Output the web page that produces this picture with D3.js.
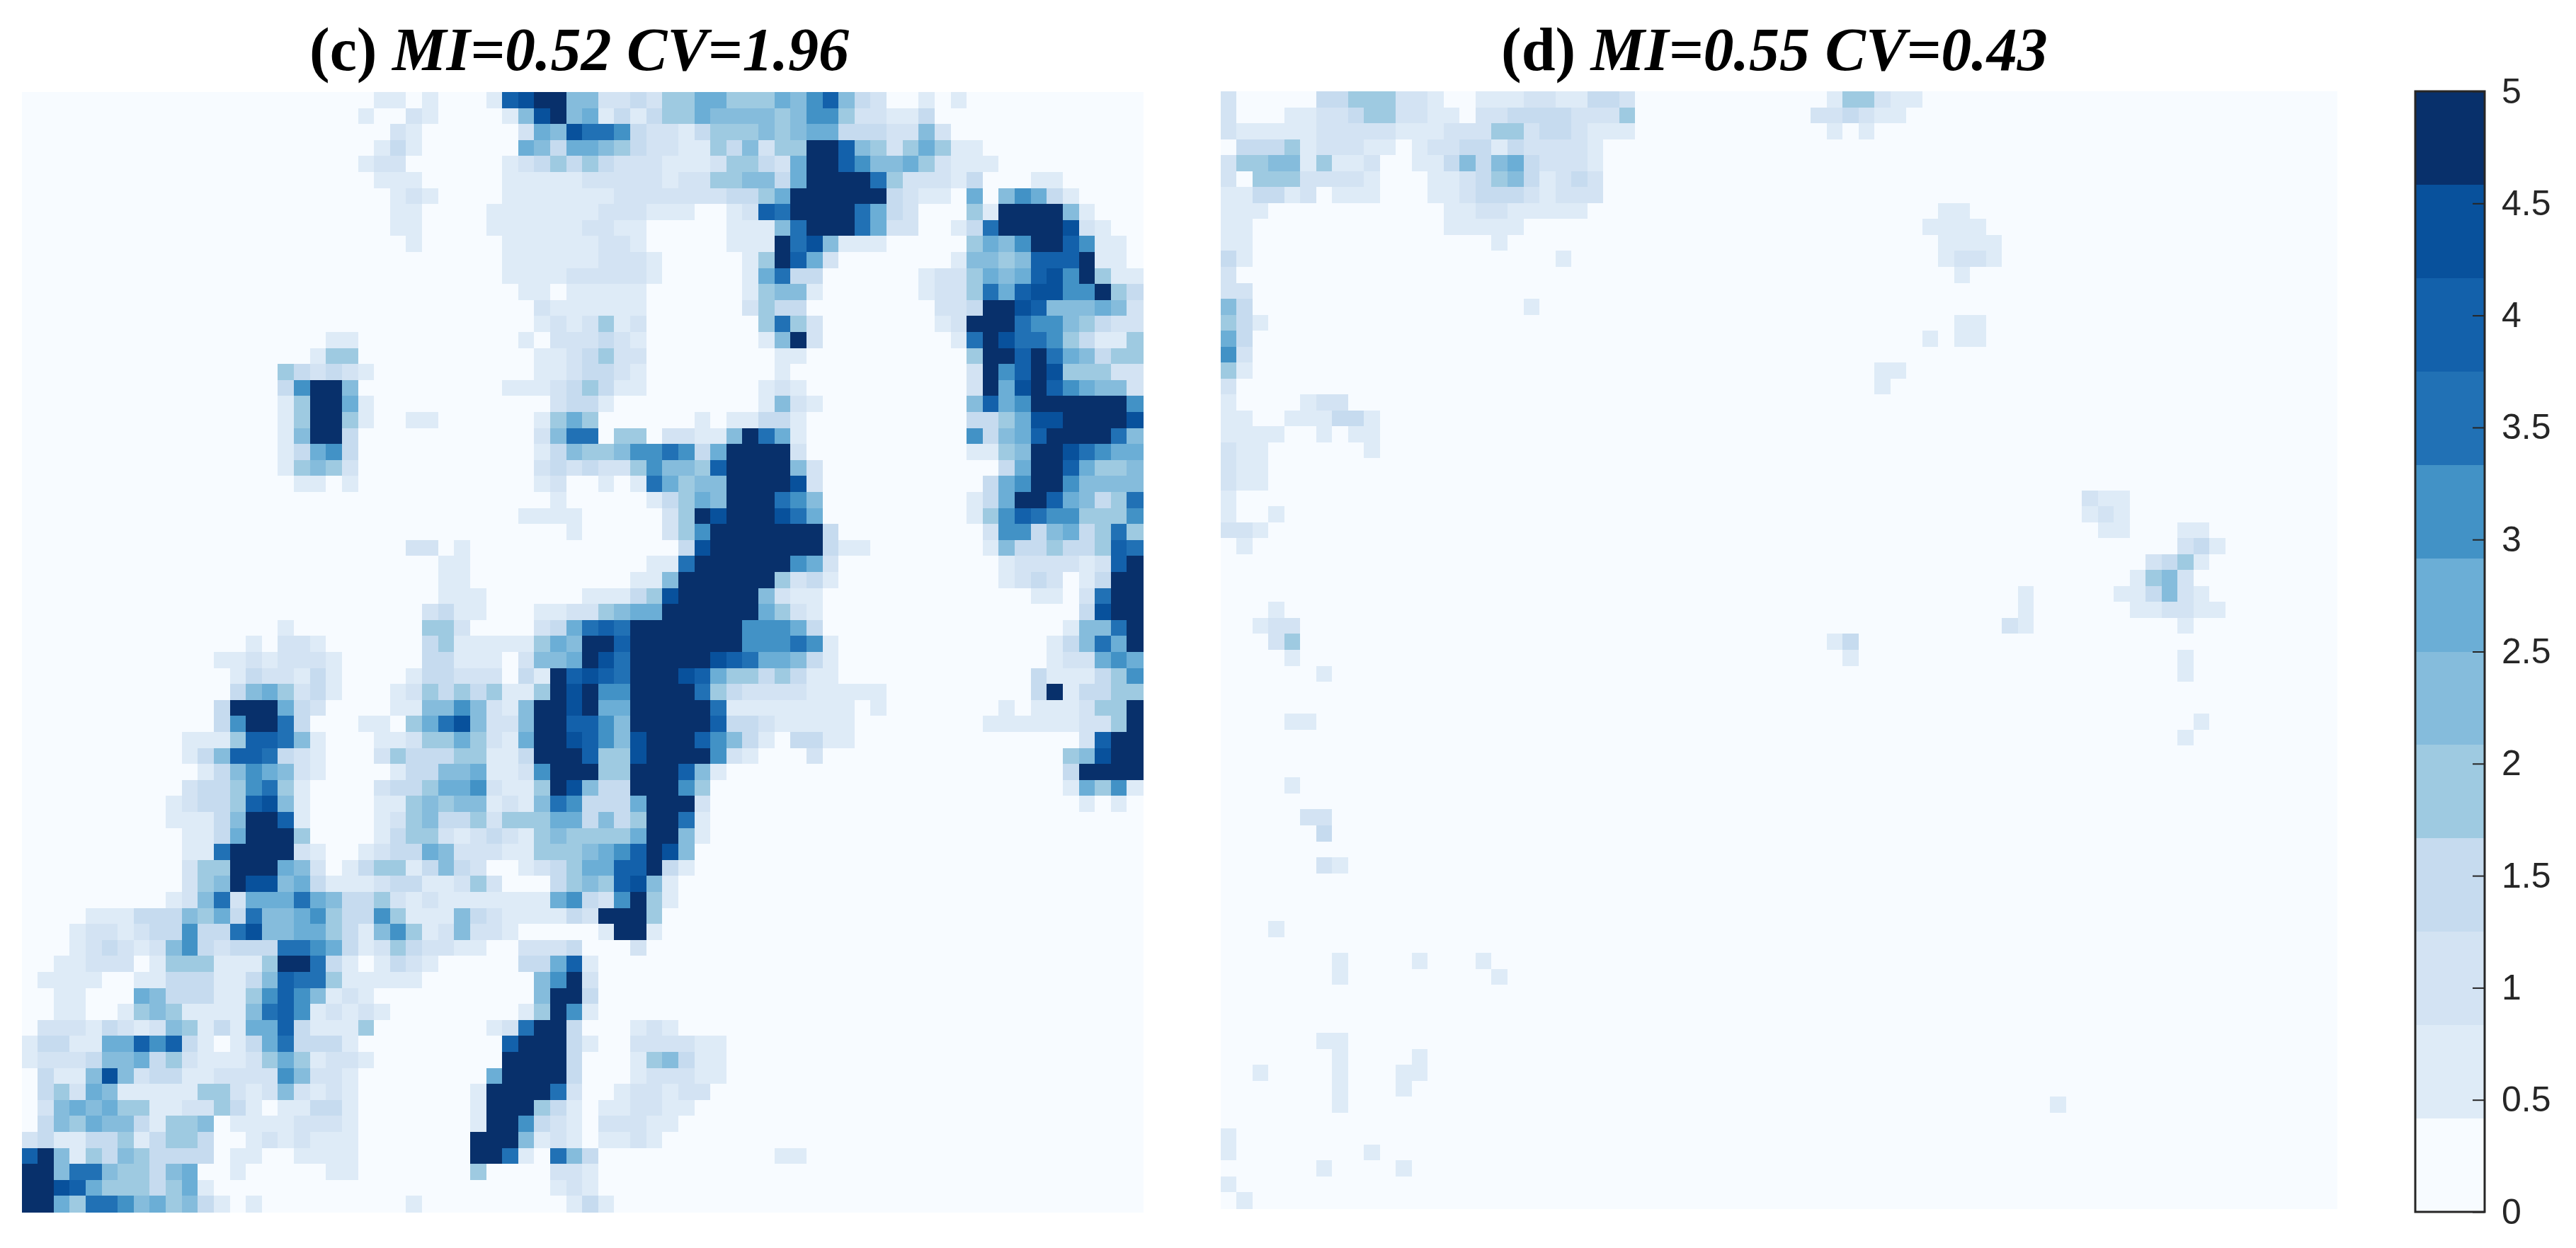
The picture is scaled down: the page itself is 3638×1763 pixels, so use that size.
<!DOCTYPE html>
<html>
<head>
<meta charset="utf-8">
<script src="https://d3js.org/d3.v7.min.js"></script>
<style>
body { margin: 0; background: #fff; }
svg { display: block; }
</style>
</head>
<body>
<div id="chart"></div>
<script>
// cell values are the colour level 0-b (hex), one per cell. (n) means n empty cells
var cLeft = [
"(22)11 0 1 (3) 1 9abb5","(21)1 00 21 (4) 1 5ab5","(23)21 (6) 2 65a","(22)131 (6) 6536","(21)122 (6) 12343",
"(22)111 (5) 11111","(23)121 (4) 11111","(23)11 (4) 111111","(23)11 (4) 111111","(24)1 (5) 11111",
"(30)11111","(30)11112","(31)1101","(32)211","(32)121",
"(19)11 (10) 1022","(18)1 44 (11) 112","(16)432321 (10) 112","(16)37bb5 (9) 11123","(16)14bb61 (11) 23",
"(16)14bb41 00 11 (6) 146","(16)15bb3 (11) 258","(16)13673 (11) 135","(16)14542 (11) 232","(17)11 0 1 (11) 120",
"(33)10","(31)1111","(34)1","(24)22 0 1 (7)","(26)11 (7)",
"(26)11 (7)","(26)111 (6)","(25)2311 (3) 112","(16)1 (8) 442 (4) 236","(14)1 0 221 (6) 34 11111 465",
"(12)11 2 1 222 1 (5) 33 111 0 2 556","(13)1322131 (4) 1 33 222 0 3 1 b9","(13)3564231 (3) 12 43434 11 4ba","(12)3bbb632 (4) 11 55752 15 bba","(12)37bb83 (3) 11 0 468a5 22 5 bb9",
"(10)111 499851 (3) 11 2 44 6 4 2 1 6 bba","(10)135 998 321 (3) 24 333 44 11 3 bbb","(11)13 5765 21 (4) 1 33 55 6 11 2 7bb","(10)2 33 4784 1 (4) 2 33 4 66 7 2 11 4ba","(9)12 33 49a5 1 (4) 11 45455 121 587",
"(9)11 1 3 5bb9 1 (4) 1245334244466","(10)11 3 6bbb 4 (4) 1344212321454","(10)11 8 bbbb 2 1 00 1 2 33 65 222 11 444","(10)2 44 bbb 65 2 0 1 3 44 13532 00 1234","(10)245baa563 111 2 33 11242 000 34",
"(9)1258 2 666 865 33 42121111111 67","0000 111 333 5463 855674 33 74 111 5 3 2 1111 3","000 1 22 1 2 33 7 33 8a 55 66 4 3 1 574 1 2 5 22 1 0000","000 1232125732 333 88 7631243 22 11 00 222 3","00 11 222 0 1 444 111 4 bb 8 3 1 0 1321 (5) 33 69",
"0 1111 00 11 333 11 359 88 4 1 1111 (7) 57b","00 11 000 65 333 11 47975121 (10) 5bb","00 11 00 1 454 1111 589712121 (8) 14b7","0 222 1321254131 66 93 111 4 (7) 128bb3","1 33 11 66 979 31 0 1368 333 1 (9) 9bbb3",
"1 222 3 55 6 3 4 2 111 2 4 6 4 1 22 1 (8) bbbb3","0 3 11 5a52 33 1 1 2 222 7 5 22 1 (8) 6 bbbb3","034265 111 11 44 21252121 (7) 1 bbbb 82","025656 44 11 22 4310 11 33 1 (7) 1 bbb 431","03546 55 31 44 5 0 1111 222 1 (7) 1 bb 7321",
"23 11 33 4 1 3 44 3 00 1212 111 (7) bbb 5121","9b514354 3333 0 11 00 1111 (7) bb 81085","bb588544356 00 1 (5) 11 (7) 4 0000 22","bba964443461 (21) 12","bb6488756453101 (9) 1 (9) 1"
];
var cRight = [
"522324466444657953200101 (11)","61313 44 6 5555 4 5 77 4 22 11 3 (13)","88 7 3 22 1 3 444 5 4 5 66 333 22 5 2 (12)","6 5 4 3 22 11 4 3 5 2 44 bb 9 5 4 2 4 6 4 11 (10)","4 3 222 111 2 44 3 2 6 bb 9 7 55 6 4 2 111 (9)",
"22222 1 22 44 55 3 6 bbbb 8 4 2 22 1 3 000 11 (5)","11 2222222 33 4 6 bbbbbb 3 2 11 0 6 0 5 7 6 3 1 (4)","1 222 111 00 1 2 9 8 bbbb 8 6 3 2 000 4 1 bbbb 5 1 (3)","2 2 11 (5) 111 5 8 bbb 8 6 22 00 1 3 8 bbbb a 2 1 (2)","1 22 1 (5) 111 b 8 a 5 111 (5) 4 6 5 7 bb 9 7 11 0",
"1 222 1 (5) 1 4 b 9 6 2 (7) 1 55 4 5 999 b 11 0","2222 1 (5) 1 6 8 33 (6) 1 22 4 6 5 6 9 a 7 b 4 1 1","1111 (6) 1 4 55 1 (6) 1 2 2 4 8 6 9 aa 77 b 4 3","1111 (6) 2 4 33 (8) 22 3 bb a 9 555 6 5 2","2 4 1 2 (7) 4 8 4 2 (7) 1 2 bbb 8 77 5 4 3 22",
"2 3 2 1 (7) 1 5 b 2 (8) 1 8 b a 88 7 4 3 11 4","3 4 22 (8) 11 (10) 4 bb 9 b 8 6 5 3 44","33 2 1 (8) 1 (11) 2 b 7 9 b a 444 22","4 3 11 (7) 1 2 1 (10) 2 b 6 a b 9 7 6 55 2","3 1 (9) 1 5 2 1 (9) 5 9 6 7 bbbbbb 7",
"4 (6) 1 0 11 33 1 (10) 33 4 6 aa bbbb a","8 0 44 0 22 11 5 b 8 6 1 (10) 7 3 5 6 9 bbbb 8 5","44 5 77 8 7 3 6 bbbb 2 (10) 11 4 5 bb a 8 7 66","3 22 4 7 55 4 9 bbbb 5 2 (11) 3 6 bb 9 6 4 4 5","0 1 0 1 8 6 4 55 bbbb a 2 (10) 3 6 7 bb 7 5555",
"0000 1 3 4 6 5 bbb 8 7 5 (9) 1 3 6 bb 9 6 5 3 4 8","(5) 2 4 b a bbb a 8 6 (9) 1 4 7 9 8 77 44 4 7","(5) 2 4 7 bbbbbbb 3 (9) 2 77 3 5 6 3 4 8 4","(6) 3 a bbbbbbb 3 11 (7) 1 5 33 4 33 4 9 8","0000 11 8 bbbbbb 7 6 2 (10) 1 2222 1 2 9 b",
"000 11 5 bbbbbb 4 2 3 1 (10) 1 2 3 2 0 1 3 bb","111 3 4 a bbbbb 5 2 11 (13) 11 0 2 8 bb","2 4 5 66 bbbbbb 6 4 2 1 (16) 3 a bb","8 9 8 bbbbbbb 777 6 3 (15) 1 55 8 b","bb 9 bbbbbbb 777 8 7 1 (13) 1 3 5 8 6 b",
"b a 8 bbbbb a 9 8 66 5 3 1 (13) 1 22 6 7 6","a 9 8 bbb a 9 6 44 3 4 3 1 1 (12) 3 111 3 4 7","b 77 bbbb 8 4 3 2222 11111 (9) 3 b 1 33 44","b 66 bbbbb 8 11111111 0 1 (7) 1 0 111 2 44 b","9 7 5 bbbbb 9 33 2 11111 (8) 111111 22 4 b",
"9 7 5 a bbb 9 7 5 3 1 0 33 11 (14) 2 9 bb","9 44 a bbbb 7 2 1 000 2 (15) 4 5 a bb","b 44 bbb 9 5 1 (21) 3 bbbb","5 33 bbb 7 4 (22) 1 6 4 7 1","3 33 6 bbb 2 (23) 1 0 1 0",
"3 5 3 4 bb 8 1 (27)","444 6 bb 5 1 (27)","5 6 7 9 b a 5 (28)","66 99 b 3 1 (28)","5 4 9 a 5 1 (29)",
"3 2 7 b 4 1 (29)","2 bbb 4 (30)","0 1 bb 1 (30)","000 2 (31)","1 (34)",
"2 (34)","3 (34)","1 (34)","000 121 (29)","1 00 2222 11 (26)",
"000 1 4 5 3 11 (26)","000 1 222 11 (26)","00 1 22 1 22 (27)","0 11 22 11 (28)","0 222 11 (29)",
"0 11 2 1 (30)","3 (11) 11 (21)","1 (34)","1 (34)","3 1 (33)"
];
var dRows = [
"2(5)33444221001112211332(12)144211","20001122344221102233332224(11)223211","21111122222111222442332111(12)101","033341222110122331322221","244551411200113535632221",
"204442222100011234531232","113312011100011233321222","111(11)112211111(22)11","11(12)11111(25)1111","11(15)1(27)1111",
"31(19)1(23)1221","2(45)1","22","53(17)1","431(43)11",
"63(42)1011","72","41(39)11","2(40)1","1(4)122",
"1100111331","1111001011","211(6)1","211","211",
"1(53)211","1001(50)121","221(52)11(3)11","01(58)231","(58)2341",
"(57)1452","(50)1(5)113521","0001(46)1(6)112211","00122(44)21(9)1","00024(33)13",
"00001(34)1(20)1","(6)1(53)1","","","000011(55)1",
"(60)1","","","00001","",
"(5)22","(6)3","","(6)21","",
"","","0001","","(7)1(4)1(3)1",
"(7)1(9)1","","","","(6)11",
"(7)1(4)1","001(4)1(3)11","(7)1(3)1","(7)1(44)1","",
"1","1(8)1","(6)1(4)1","1","01"
];
var blues = ["#f7fbff","#deebf7","#d3e3f3","#c6dbef","#9ecae1","#85bcdc","#6baed6","#4292c6","#2171b5","#1361ab","#08519c","#08306b"];
var colorTicks = [0,0.5,1,1.5,2,2.5,3,3.5,4,4.5,5];

var n = 70;

function decode(row){
  row = row.replace(/\s/g,"").replace(/\((\d+)\)/g, function(m,k){ return "0".repeat(+k); });
  return row.padEnd(n,"0").split("").map(function(ch){ return parseInt(ch,16); });
}

var cGrid = cLeft.map(function(r,i){ return decode(r + cRight[i]); });
var dGrid = dRows.map(decode);

var svg = d3.select("#chart").append("svg")
  .attr("width", 3638)
  .attr("height", 1763);

var color = d3.scaleQuantize().domain([0,12]).range(blues);

function drawPanel(grid, x0, x1, y0, y1){
  var x = d3.scaleBand().domain(d3.range(n)).range([x0,x1]);
  var y = d3.scaleBand().domain(d3.range(n)).range([y0,y1]);
  var rows = svg.append("g")
    .attr("shape-rendering", "crispEdges")
    .selectAll("g")
    .data(grid)
    .enter().append("g")
    .attr("transform", function(d,i){ return "translate(0," + y(i) + ")"; });
  rows.selectAll("rect")
    .data(function(d){ return d; })
    .enter().append("rect")
    .attr("x", function(d,i){ return x(i); })
    .attr("width", x.bandwidth() + 0.5)
    .attr("height", y.bandwidth() + 0.5)
    .attr("fill", function(d){ return color(d); });
}

drawPanel(cGrid, 30.5, 1614, 130, 1712);
drawPanel(dGrid, 1723.5, 3300.5, 129, 1707);

function title(x, label, rest){
  var t = svg.append("text")
    .attr("x", x)
    .attr("y", 99)
    .attr("font-family", "'Liberation Serif'")
    .attr("font-weight", "bold")
    .attr("font-size", 86)
    .attr("fill", "#000");
  t.append("tspan").text(label);
  t.append("tspan").attr("font-style", "italic").text(rest);
}
title(437, "(c) ", "MI=0.52 CV=1.96");
title(2120, "(d) ", "MI=0.55 CV=0.43");

// colorbar
var barY = d3.scaleLinear().domain([0,5]).range([1712,129]);
var barLeft = 3411, barRight = 3509;
svg.append("g").selectAll("rect")
  .data(blues)
  .enter().append("rect")
  .attr("shape-rendering", "crispEdges")
  .attr("x", barLeft)
  .attr("width", barRight - barLeft)
  .attr("y", function(d,i){ return barY((i+1)*5/12); })
  .attr("height", function(d,i){ return barY(i*5/12) - barY((i+1)*5/12); })
  .attr("fill", function(d){ return d; });

var axis = d3.axisRight(barY)
  .tickValues(colorTicks)
  .tickFormat(function(d){ return d; })
  .tickSize(-17)
  .tickPadding(24);
var axisG = svg.append("g")
  .attr("transform", "translate(" + barRight + ",0)")
  .call(axis);
axisG.select(".domain").remove();
axisG.selectAll("line").attr("stroke", "#262626").attr("stroke-width", 2);
axisG.selectAll("text")
  .attr("fill", "#262626")
  .attr("font-family", "'Liberation Sans'")
  .attr("font-size", 50);

svg.append("rect")
  .attr("x", barLeft)
  .attr("y", barY(5))
  .attr("width", barRight - barLeft)
  .attr("height", barY(0) - barY(5))
  .attr("fill", "none")
  .attr("stroke", "#262626")
  .attr("stroke-width", 3);
</script>
</body>
</html>
